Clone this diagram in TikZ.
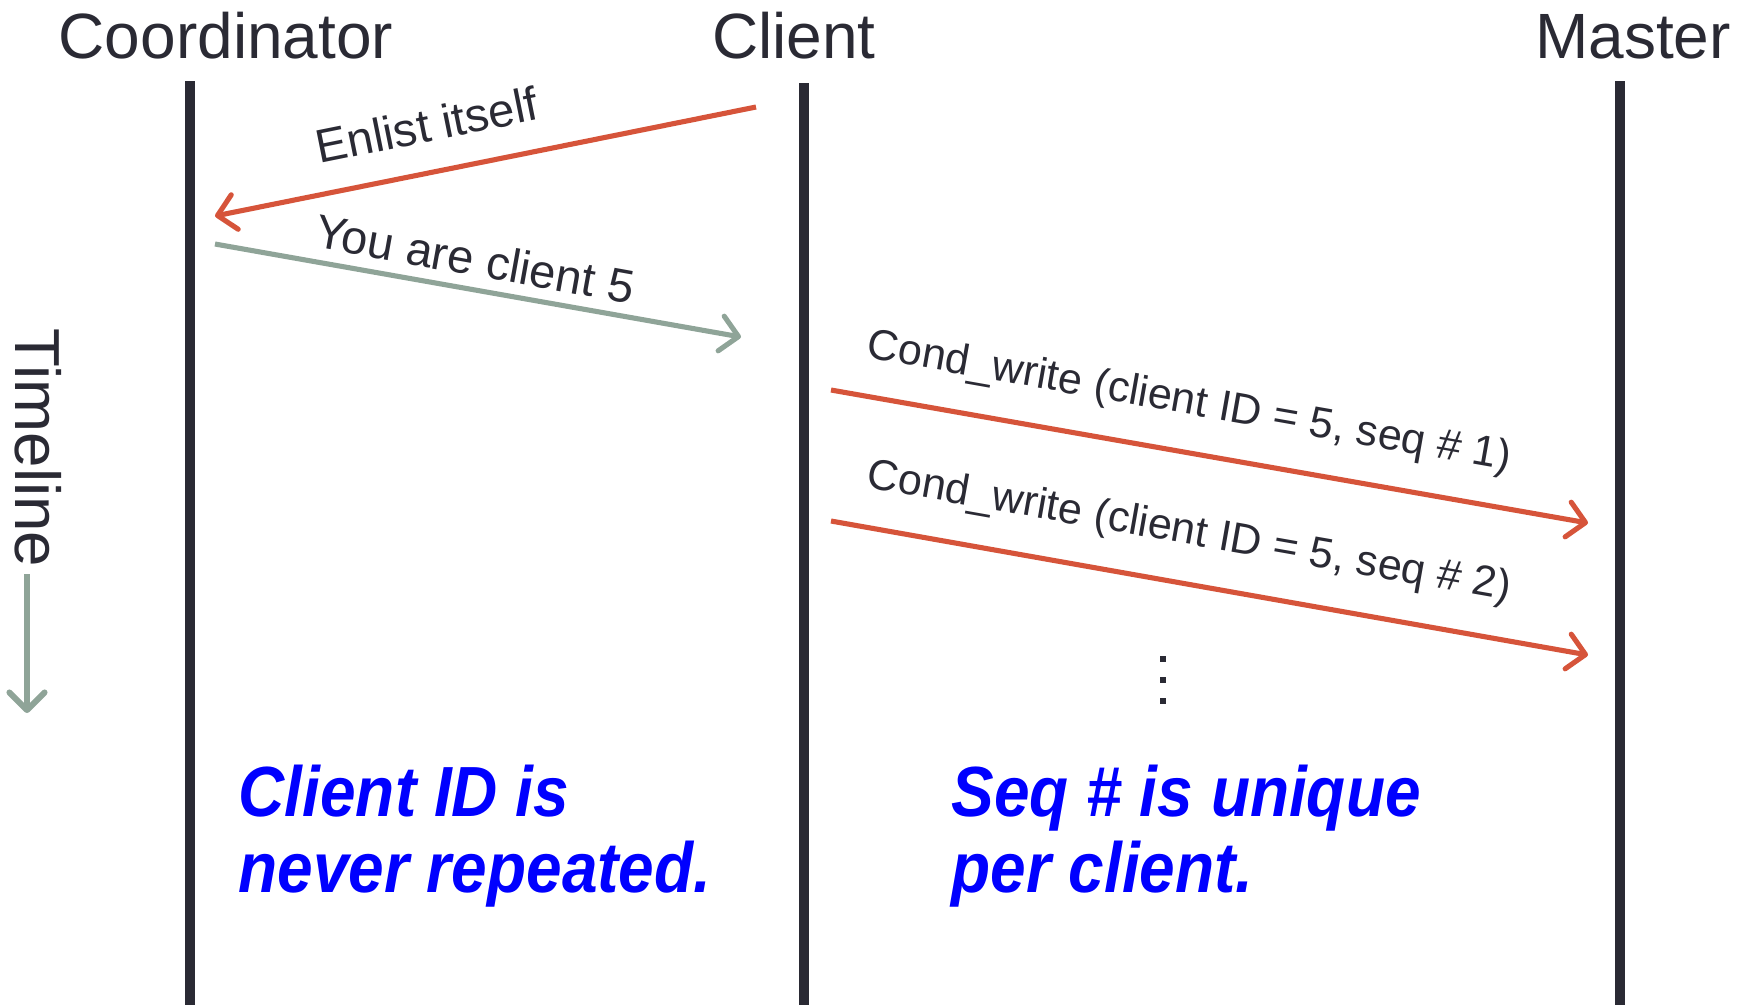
\documentclass[tikz,border=0pt]{standalone}
\usepackage{fontspec}
\setmainfont{Liberation Sans}
\newfontfamily\notefont[FakeStretch=0.9]{Liberation Sans}
\usetikzlibrary{arrows.meta}

\definecolor{lifeline}{RGB}{42,42,52}
\definecolor{msgred}{RGB}{214,84,58}
\definecolor{msggray}{RGB}{143,164,152}
\definecolor{noteblue}{RGB}{0,0,255}

\tikzset{
  actor/.style={font=\fontsize{18.2}{20}\selectfont, text=lifeline, anchor=base, inner sep=0pt},
  life/.style={line width=3.1pt, draw=lifeline},
  msg/.style={line width=1.45pt, -{Straight Barb[length=5pt,width=10pt,line cap=round,line join=round]}},
  msglabel/.style={font=\fontsize{13.4}{15}\selectfont, text=lifeline, inner sep=0pt},
  condlabel/.style={font=\fontsize{12.25}{14}\selectfont, text=lifeline, inner sep=0pt},
  note/.style={font=\notefont\bfseries\itshape\fontsize{20.2}{22}\selectfont, text=noteblue, anchor=base west, inner sep=0pt},
}

\begin{document}
\begin{tikzpicture}[x=0.01cm, y=-0.01cm]
  \useasboundingbox (0,0) rectangle (1749,1005);

  % participants
  \node[actor] (coord) at (226,58) {Coordinator};
  \node[actor] (client) at (794,58) {Client};
  \node[actor] (master) at (1633,58) {Master};

  % lifelines
  \coordinate (coordTop) at (190,81);
  \coordinate (coordBot) at (190,1005);
  \coordinate (clientTop) at (804,83);
  \coordinate (clientBot) at (804,1005);
  \coordinate (masterTop) at (1620,81);
  \coordinate (masterBot) at (1620,1005);
  \draw[life] (coordTop) -- (coordBot);
  \draw[life] (clientTop) -- (clientBot);
  \draw[life] (masterTop) -- (masterBot);

  % enlist request
  \coordinate (enlS) at (756,107);
  \coordinate (enlE) at (215,216);
  \draw[msg, draw=msgred] (enlS) -- (enlE);
  \node[msglabel, rotate=11.4] (enlLbl) at (427,125) {Enlist itself};

  % id assignment
  \coordinate (idS) at (215,244);
  \coordinate (idE) at (741,337);
  \draw[msg, draw=msggray] (idS) -- (idE);
  \node[msglabel, rotate=-10.2] (idLbl) at (475,259) {You are client 5};

  % conditional writes
  \coordinate (w1S) at (831,390);
  \coordinate (w1E) at (1588,523);
  \draw[msg, draw=msgred] (w1S) -- (w1E);
  \node[condlabel, rotate=-10] (w1Lbl) at (1189,403) {Cond\_write (client ID = 5, seq \# 1)};

  \coordinate (w2S) at (831,521);
  \coordinate (w2E) at (1588,655);
  \draw[msg, draw=msgred] (w2S) -- (w2E);
  \node[condlabel, rotate=-10] (w2Lbl) at (1189,533) {Cond\_write (client ID = 5, seq \# 2)};

  % continuation dots
  \foreach \yy in {659,680,701}
    \fill[lifeline] (1160,\yy-3) rectangle (1166,\yy+3);

  % time axis
  \node[font=\fontsize{18.1}{20}\selectfont, text=lifeline, rotate=-90, inner sep=0pt] (tl) at (38,448) {Timeline};
  \coordinate (tlS) at (27,574);
  \coordinate (tlE) at (27,713);
  \draw[msg, draw=msggray, line width=1.7pt] (tlS) -- (tlE);

  % notes
  \node[note] (n1a) at (238,816) {Client ID is};
  \node[note] (n1b) at (238,892) {never repeated.};
  \node[note] (n2a) at (951,816) {Seq \# is unique};
  \node[note] (n2b) at (951,892) {per client.};
\end{tikzpicture}
\end{document}
